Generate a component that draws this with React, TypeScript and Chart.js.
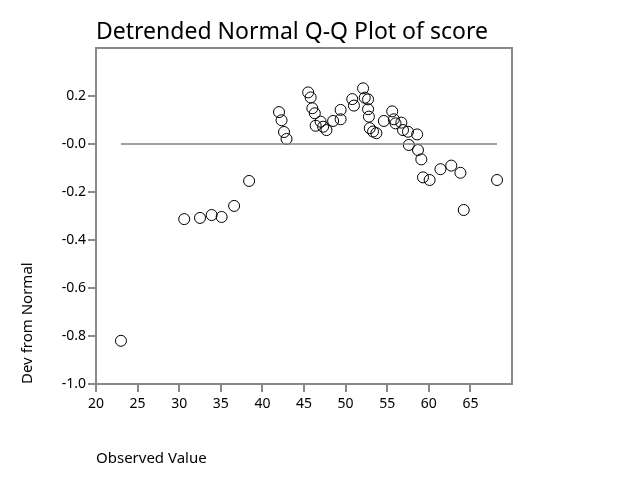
import React, { useEffect, useRef } from "react";
import { Chart, registerables } from "chart.js";

Chart.register(...registerables);

const observedValues = [
  23.0, 30.6, 32.5, 33.9, 35.1, 36.6, 38.4,
  42.0, 42.3, 42.6, 42.9,
  45.5, 45.8, 46.0, 46.3, 46.4, 47.0, 47.3, 47.7, 48.5, 49.4, 49.4,
  50.8, 51.0, 52.1, 52.3, 52.7, 52.7, 52.8, 52.9, 53.3, 53.7, 54.6,
  55.6, 55.8, 56.0, 56.7, 56.9, 57.5, 58.6, 57.6, 58.7, 59.1, 59.3, 60.1,
  61.4, 62.7, 63.8, 64.2, 68.2,
];
const devFromNormal = [
  -0.82, -0.313, -0.308, -0.296, -0.304, -0.258, -0.154,
  0.133, 0.099, 0.05, 0.021,
  0.215, 0.194, 0.149, 0.128, 0.076, 0.093, 0.072, 0.058, 0.096, 0.103, 0.142,
  0.187, 0.16, 0.232, 0.193, 0.186, 0.145, 0.114, 0.066, 0.052, 0.045, 0.096,
  0.136, 0.103, 0.086, 0.089, 0.058, 0.051, 0.04, -0.004, -0.025, -0.064, -0.139, -0.15,
  -0.105, -0.09, -0.12, -0.275, -0.15,
];

const titleText = "Detrended Normal Q-Q Plot of score";
const xTitle = "Observed Value";
const yTitle = "Dev from Normal";

const FONT = "'Noto Sans', sans-serif";

export default function App() {
  const ref = useRef<HTMLCanvasElement | null>(null);
  useEffect(() => {
    if (!ref.current) return;
    const pts = observedValues.map((x, i) => ({ x, y: devFromNormal[i] }));
    const minX = Math.min(...observedValues);
    const maxX = Math.max(...observedValues);
    const textPlugin = {
      id: "texts",
      afterDraw(chart: any) {
        const { ctx, chartArea } = chart;
        ctx.save();
        ctx.strokeStyle = "#888888";
        ctx.lineWidth = 2;
        ctx.strokeRect(chartArea.left, chartArea.top, chartArea.right - chartArea.left, chartArea.bottom - chartArea.top);
        ctx.fillStyle = "#000000";
        ctx.font = `23px ${FONT}`;
        ctx.textAlign = "left";
        ctx.textBaseline = "middle";
        ctx.fillText(titleText, chartArea.left, 32);
        ctx.font = `15px ${FONT}`;
        ctx.fillText(xTitle, chartArea.left, 459);
        ctx.translate(28, chartArea.bottom);
        ctx.rotate(-Math.PI / 2);
        ctx.textAlign = "left";
        ctx.fillText(yTitle, 0, 0);
        ctx.restore();
      },
    };
    const chart = new Chart(ref.current, {
      type: "scatter",
      data: {
        datasets: [
          {
            type: "line",
            data: [
              { x: minX, y: 0 },
              { x: maxX, y: 0 },
            ],
            borderColor: "#808080",
            borderWidth: 1.5,
            pointRadius: 0,
            fill: false,
          } as any,
          {
            data: pts,
            pointRadius: 5.5,
            pointBorderWidth: 1,
            pointBorderColor: "#000000",
            pointBackgroundColor: "rgba(0,0,0,0)",
            borderColor: "#000000",
            backgroundColor: "rgba(0,0,0,0)",
          },
        ],
      },
      plugins: [textPlugin],
      options: {
        responsive: false,
        animation: false,
        layout: { padding: { left: 36, top: 48, right: 128, bottom: 56 } },
        plugins: { legend: { display: false }, tooltip: { enabled: false } },
        scales: {
          x: {
            type: "linear",
            min: 20,
            max: 70,
            afterFit: (s: any) => {
              s.height = 40;
            },
            afterBuildTicks: (s: any) => {
              s.ticks = s.ticks.filter((t: any) => t.value <= 65.01);
            },
            ticks: { stepSize: 5, color: "#000000", font: { family: FONT, size: 14 }, padding: 4 },
            grid: { drawOnChartArea: false, tickLength: 8, color: "#888888", lineWidth: 2 },
            border: { color: "#888888", width: 2 },
          },
          y: {
            type: "linear",
            min: -1.0,
            max: 0.4,
            afterFit: (s: any) => {
              s.width = 60;
            },
            afterBuildTicks: (s: any) => {
              s.ticks = s.ticks.filter((t: any) => t.value <= 0.21);
            },
            ticks: {
              stepSize: 0.2,
              color: "#000000",
              font: { family: FONT, size: 14 },
              padding: 2,
              callback: (v: any) => (Math.abs(v) < 1e-9 ? "-0.0" : Number(v).toFixed(1)),
            },
            grid: { drawOnChartArea: false, tickLength: 8, color: "#888888", lineWidth: 2 },
            border: { color: "#888888", width: 2 },
          },
        },
      },
    });
    return () => chart.destroy();
  }, []);
  return (
    <div style={{ position: "fixed", left: 0, top: 0, width: 640, height: 480, background: "#fff" }}>
      <canvas ref={ref} width={640} height={480} />
    </div>
  );
}
